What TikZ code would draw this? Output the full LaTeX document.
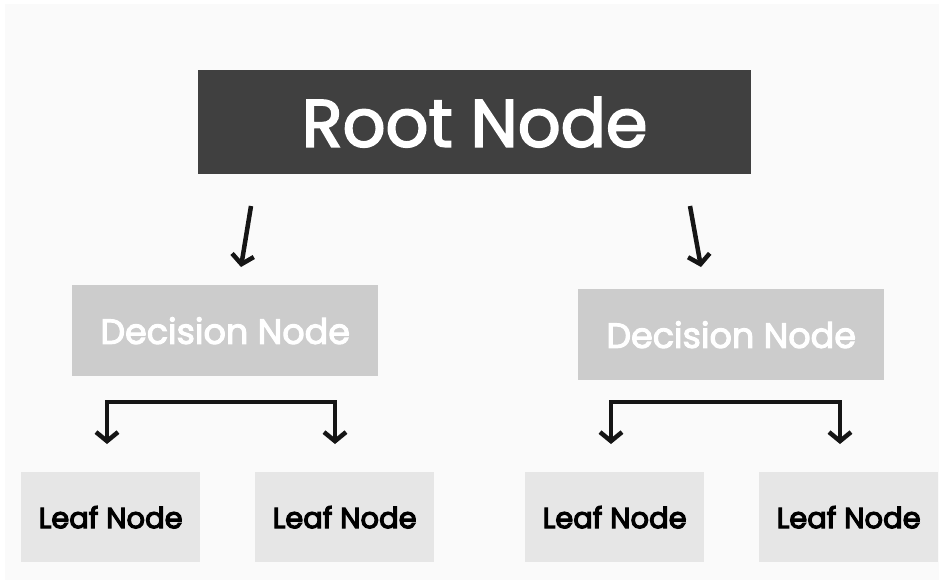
\documentclass[tikz,border=0pt]{standalone}
\usepackage{fontspec}
\setmainfont{Poppins}
\newfontfamily\rootfont{Poppins}[FakeBold=2.6]
\newfontfamily\decfont{Poppins}[FakeBold=3]
\newfontfamily\leaffont{Poppins}[FakeBold=4]
\usetikzlibrary{arrows.meta}
\definecolor{bgc}{HTML}{FAFAFA}
\definecolor{rootc}{HTML}{404040}
\definecolor{decc}{HTML}{CCCCCC}
\definecolor{leafc}{HTML}{E6E6E6}
\definecolor{arrc}{HTML}{151515}
\tikzset{
  box/.style={draw=none, inner sep=0pt, anchor=north west},
  rootbox/.style={box, fill=rootc, text=white, minimum width=553pt, minimum height=104pt, font=\rootfont\fontsize{67}{74}\selectfont},
  decbox/.style={box, fill=decc, text=white, minimum width=306pt, minimum height=91pt, font=\decfont\fontsize{35}{40}\selectfont},
  leafbox/.style={box, fill=leafc, text=black, minimum width=179pt, minimum height=90pt, font=\leaffont\fontsize{29}{34}\selectfont},
  arr/.style={draw=arrc, line width=4.5pt, -{Straight Barb[length=9pt,width=22pt,line width=4.5pt]}},
  brk/.style={draw=arrc, line width=4.5pt, {Straight Barb[length=9pt,width=22pt,line width=4.5pt]}-{Straight Barb[length=9pt,width=22pt,line width=4.5pt]}},
}
\begin{document}
\begin{tikzpicture}[x=1pt,y=-1pt]
\useasboundingbox (0,0) rectangle (944,582);
\fill[white] (0,0) rectangle (944,582);
\fill[bgc] (5,4) rectangle (939,580);
% nodes
\node[rootbox] (root) at (198,70) {Root Node};
\node[decbox] (decL) at (72,285) {\raisebox{-3pt}{Decision Node}};
\node[decbox] (decR) at (578,289) {\raisebox{-3pt}{Decision Node}};
\node[leafbox] (leaf1) at (21,472) {Leaf Node};
\node[leafbox] (leaf2) at (255,472) {Leaf Node};
\node[leafbox] (leaf3) at (525,472) {Leaf Node};
\node[leafbox] (leaf4) at (759,472) {Leaf Node};
% arrows from root
\coordinate (aLs) at (251,206);
\coordinate (aLe) at (241,267);
\coordinate (aRs) at (690,206);
\coordinate (aRe) at (701,267);
\draw[arr] (aLs) -- (aLe);
\draw[arr] (aRs) -- (aRe);
% brackets
\coordinate (bL1) at (107,444);
\coordinate (bL2) at (335,444);
\coordinate (bLm) at (221,402);
\coordinate (bR1) at (611,444);
\coordinate (bR2) at (840,444);
\coordinate (bRm) at (725,402);
\draw[brk] (bL1) |- (bLm) -| (bL2);
\draw[brk] (bR1) |- (bRm) -| (bR2);
\end{tikzpicture}
\end{document}
